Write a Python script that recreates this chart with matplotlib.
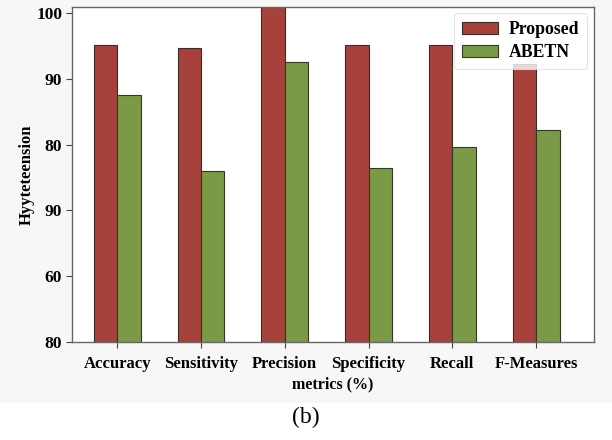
import matplotlib
matplotlib.use('Agg')
import numpy as np
import matplotlib.pyplot as plt
from matplotlib.patches import Rectangle

# Metric groups and the two compared models
metrics = ['Accuracy', 'Sensitivity', 'Precision', 'Specificity', 'Recall', 'F-Measures']
proposed = [95.2, 94.7, 101.5, 95.2, 95.2, 92.2]
abetn = [87.6, 76.0, 92.5, 76.5, 79.7, 82.2]

# y tick positions and the labels printed at them
ytick_pos = [50, 60, 70, 80, 90, 100]
ytick_lab = ['80', '60', '90', '80', '90', '100']

red = '#a6423b'
green = '#7b9a47'

plt.rcParams['font.family'] = ['Liberation Serif', 'DejaVu Serif']

fig = plt.figure(figsize=(6.12, 4.4), dpi=100)
fig.patch.set_facecolor('white')
# light grey panel behind the plot area
fig.patches.append(Rectangle((0, 0.084), 1, 0.916, transform=fig.transFigure,
                             facecolor='#f7f7f7', edgecolor='none', zorder=-10))

ax = fig.add_axes([0.1176, 0.2227, 0.853, 0.7613])
ax.set_facecolor('white')

x = np.arange(len(metrics))
w = 0.28
ax.bar(x - w / 2, proposed, w, color=red, edgecolor='#3a2a28', linewidth=0.8,
       label='Proposed')
ax.bar(x + w / 2, abetn, w, color=green, edgecolor='#2e3a22', linewidth=0.8,
       label='ABETN')

ax.set_xlim(-0.54, 5.69)
ax.set_ylim(50, 100.9)
ax.set_xticks(x)
ax.set_xticklabels(metrics, fontsize=12, fontweight='bold')
ax.set_yticks(ytick_pos)
ax.set_yticklabels(ytick_lab, fontsize=12.5, fontweight='bold')

for s in ax.spines.values():
    s.set_color('#666666')
    s.set_linewidth(1.0)
ax.tick_params(axis='both', direction='out', length=4, color='#444444')
ax.tick_params(axis='x', pad=6)
ax.tick_params(axis='y', pad=3)

ax.set_xlabel('metrics (%)', fontsize=11.5, fontweight='bold', labelpad=3)
ax.set_ylabel('Hyyteteension', fontsize=12, fontweight='bold', labelpad=1)

leg = ax.legend(loc='upper right', bbox_to_anchor=(0.9866, 0.982),
                borderaxespad=0, prop={'weight': 'bold', 'size': 12.8},
                handlelength=2.0, handleheight=0.65, handletextpad=0.6,
                frameon=True, fancybox=True, borderpad=0.45, labelspacing=0.35)
leg.get_frame().set_edgecolor('#dddddd')
leg.get_frame().set_linewidth(0.8)
leg.set_zorder(10)

fig.text(0.5, 0.052, '(b)', ha='center', va='center', fontsize=17)

fig.savefig('out.png', dpi=100)
